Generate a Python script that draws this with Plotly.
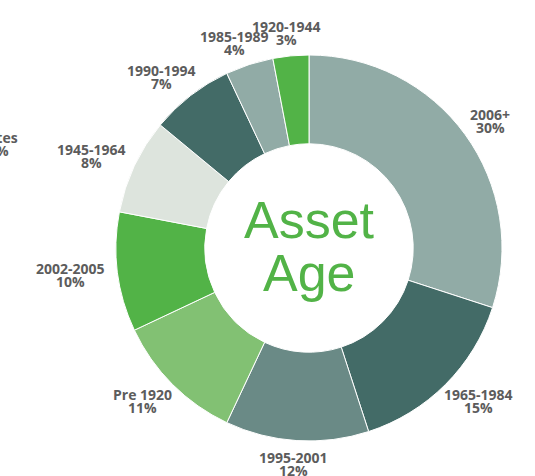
import math
import plotly.graph_objects as go

labels = ["2006+", "1965-1984", "1995-2001", "Pre 1920", "2002-2005",
          "1945-1964", "1990-1994", "1985-1989", "1920-1944"]
values = [30, 15, 12, 11, 10, 8, 7, 4, 3]
colors = ["#91aba6", "#436b67", "#6a8a86", "#82c173", "#52b347",
          "#dde4dd", "#436b67", "#91aba6", "#52b347"]
center_title = ["Asset", "Age"]
cut_label = ["dates", "0%"]

W, H = 535, 476
cx, cy, R = 309, 248, 193
GAP = 11
LABEL_FONT = dict(family="Open Sans", size=14, color="#5c5c5c", weight="bold")
GREEN = "#52b347"


def fx(px):
    return px / W


def fy(py):
    return 1 - py / H


fig = go.Figure(go.Pie(
    labels=labels, values=values, sort=False, direction="clockwise", rotation=0,
    hole=0.54,
    marker=dict(colors=colors, line=dict(color="white", width=1)),
    textinfo="none",
    showlegend=False, hoverinfo="label+percent",
    domain=dict(x=[fx(cx - R), fx(cx + R)], y=[fy(cy + R), fy(cy - R)]),
))


def add_text(text, px, py, font):
    fig.add_annotation(text=text, x=fx(px), y=fy(py), xref="paper", yref="paper",
                       showarrow=False, xanchor="center", yanchor="middle", font=font)


# outside labels, placed from each slice's mid-angle
total = sum(values)
cum = 0
for lab, val in zip(labels, values):
    mid = (cum + val / 2) / total * 2 * math.pi
    cum += val
    s, c = math.sin(mid), math.cos(mid)
    hw = 8 * len(lab) / 2
    hh = 12
    lx = cx + (R + GAP + hw) * s
    ly = cy - (R + GAP + hh) * c
    pct = f"{round(val / total * 100)}%"
    add_text(lab, lx, ly - 6.5, LABEL_FONT)
    add_text(pct, lx, ly + 6.5, LABEL_FONT)

# centre title
add_text(center_title[0], cx, 220, dict(family="Liberation Sans", size=52, color=GREEN))
add_text(center_title[1], cx, 273, dict(family="Liberation Sans", size=52, color=GREEN))

# label clipped at the left edge
add_text(cut_label[0], -2, 137, LABEL_FONT)
add_text(cut_label[1], -2, 150, LABEL_FONT)

fig.update_layout(width=W, height=H, margin=dict(l=0, r=0, t=0, b=0),
                  paper_bgcolor="white", plot_bgcolor="white")
fig.write_html("out.html", config={"displayModeBar": False},
               post_script="document.body.style.margin='0';")
